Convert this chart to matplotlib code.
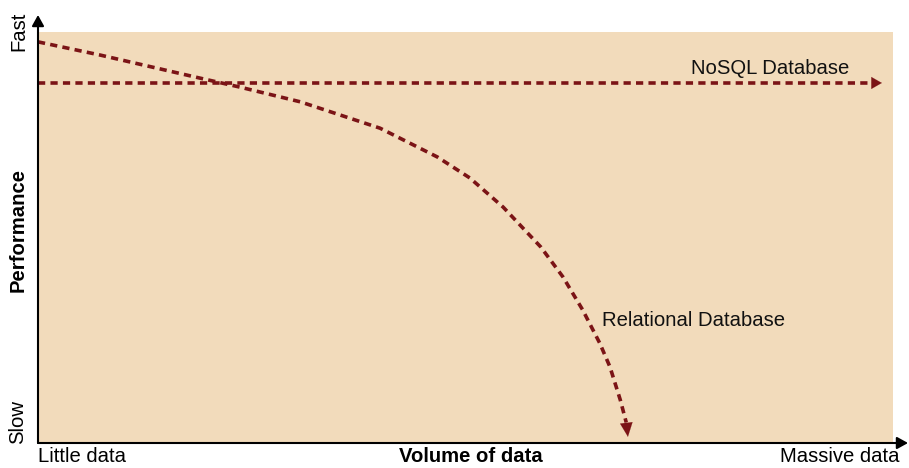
import matplotlib
matplotlib.use("Agg")
import matplotlib.pyplot as plt

plt.rcParams['font.family'] = ['Liberation Sans', 'DejaVu Sans']

# Data (normalised volume 0..1, performance 0..1)
rel_x = [0.0, 0.0725, 0.189, 0.236, 0.307, 0.400, 0.467, 0.505, 0.544, 0.588,
         0.614, 0.637, 0.657, 0.669, 0.681, 0.690]
rel_y = [0.976, 0.944, 0.888, 0.866, 0.830, 0.766, 0.696, 0.645, 0.574, 0.477,
         0.404, 0.324, 0.243, 0.185, 0.105, 0.015]
nosql_x = [0.0, 0.987]
nosql_y = [0.876, 0.876]
labels = {"nosql": "NoSQL Database", "rel": "Relational Database"}

W, H = 909, 468
fig = plt.figure(figsize=(W/100, H/100), dpi=100)
ax = fig.add_axes([38/W, (H-443)/H, 855/W, 411/H])
ax.set_xlim(0, 1)
ax.set_ylim(0, 1)
ax.set_facecolor('#F2DBBB')
for s in ax.spines.values():
    s.set_visible(False)
ax.set_xticks([])
ax.set_yticks([])

red = '#7B1416'
lw = 2.6
dash = (2.0, 1.45)
# NoSQL line, ending at arrow head base
ax.plot([nosql_x[0], nosql_x[1]-0.012], nosql_y, color=red, lw=lw, dashes=dash)
ax.annotate('', xy=(nosql_x[1], nosql_y[1]), xytext=(nosql_x[1]-0.012, nosql_y[1]),
            arrowprops=dict(arrowstyle='-|>,head_length=0.75,head_width=0.43', color=red, lw=0.1,
                            shrinkA=0, shrinkB=0))
# Relational curve
ax.plot(rel_x[:-1] + [0.688], rel_y[:-1] + [0.05], color=red, lw=lw, dashes=dash)
ax.annotate('', xy=(rel_x[-1], rel_y[-1]), xytext=(0.688, 0.05),
            arrowprops=dict(arrowstyle='-|>,head_length=1.0,head_width=0.45', color=red, lw=0.1,
                            shrinkA=0, shrinkB=0))

fs = 14.6
ax.text((770-38)/855, (443-68)/411, labels["nosql"], fontsize=fs, color='#111111', ha='center', va='center')
ax.text((694-38)/855, (443-321)/411, labels["rel"], fontsize=fs, color='#111111', ha='center', va='center')

# axes arrows
ax.annotate('', xy=(0, (443-15)/411), xytext=(0, 0), xycoords='axes fraction',
            arrowprops=dict(arrowstyle='-|>,head_length=0.65,head_width=0.36', color='black', lw=1.5,
                            shrinkA=0, shrinkB=0),
            annotation_clip=False)
ax.annotate('', xy=((908-38)/855, 0), xytext=(0, 0), xycoords='axes fraction',
            arrowprops=dict(arrowstyle='-|>,head_length=0.65,head_width=0.36', color='black', lw=1.5,
                            shrinkA=0, shrinkB=0),
            annotation_clip=False)

def px(x, y):
    return x/W, (H-y)/H

fig.text(*px(18, 230), 'Performance', rotation=90, fontsize=fs, fontweight='bold', ha='center', va='center')
fig.text(*px(19, 31), 'Fast', rotation=90, fontsize=fs, ha='center', va='center')
fig.text(*px(18, 422), 'Slow', rotation=90, fontsize=fs, ha='center', va='center')
fig.text(*px(471, 457), 'Volume of data', fontsize=fs, fontweight='bold', ha='center', va='center')
fig.text(*px(38, 457), 'Little data', fontsize=fs, ha='left', va='center')
fig.text(*px(900, 457), 'Massive data', fontsize=fs, ha='right', va='center')

fig.savefig('out.png', dpi=100)
